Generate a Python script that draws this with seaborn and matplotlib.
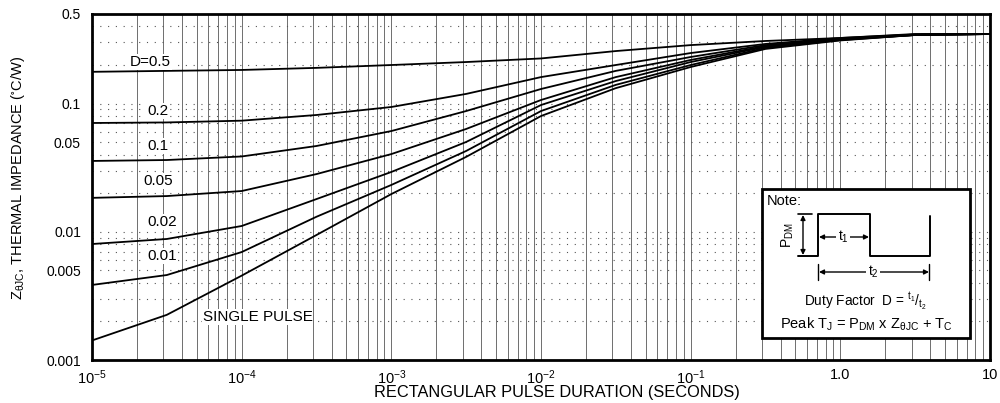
import numpy as np
import pandas as pd
import matplotlib
matplotlib.use("Agg")
import matplotlib.pyplot as plt
import seaborn as sns
from matplotlib.ticker import LogLocator, FixedLocator, FixedFormatter, NullFormatter
from matplotlib.patches import Rectangle, FancyArrowPatch
from matplotlib.lines import Line2D

# ---------------- data ----------------
pulse_time = [1e-5, 3.16e-5, 1e-4, 3.16e-4, 1e-3, 3.16e-3, 1e-2, 3.16e-2,
              0.1, 0.316, 1.0, 3.16, 10.0]
z_d05 = [0.177, 0.180, 0.183, 0.190, 0.200, 0.211, 0.225, 0.257, 0.286, 0.308, 0.325, 0.349, 0.349]
z_d02 = [0.0706, 0.0713, 0.0736, 0.0815, 0.0941, 0.119, 0.161, 0.200, 0.248, 0.292, 0.325, 0.346, 0.349]
z_d01 = [0.0357, 0.0363, 0.0387, 0.0467, 0.0611, 0.0875, 0.130, 0.180, 0.231, 0.286, 0.319, 0.346, 0.349]
z_d005 = [0.0184, 0.0190, 0.0208, 0.0282, 0.0404, 0.0634, 0.1067, 0.161, 0.219, 0.281, 0.319, 0.343, 0.349]
z_d002 = [0.00803, 0.00879, 0.0111, 0.0180, 0.0293, 0.0502, 0.0975, 0.150, 0.211, 0.277, 0.316, 0.343, 0.349]
z_d001 = [0.00385, 0.00460, 0.00695, 0.0131, 0.0232, 0.0427, 0.0875, 0.140, 0.200, 0.272, 0.313, 0.343, 0.349]
z_single = [0.00142, 0.00225, 0.00455, 0.00944, 0.0197, 0.0384, 0.0800, 0.132, 0.193, 0.267, 0.311, 0.343, 0.349]

series_names = ["D=0.5", "0.2", "0.1", "0.05", "0.02", "0.01", "SINGLE PULSE"]
series_values = [z_d05, z_d02, z_d01, z_d005, z_d002, z_d001, z_single]

x_tick_values = [1e-5, 1e-4, 1e-3, 1e-2, 1e-1, 1.0, 10.0]
x_tick_labels = [r"$10^{-5}$", r"$10^{-4}$", r"$10^{-3}$", r"$10^{-2}$", r"$10^{-1}$", "1.0", "10"]
y_tick_values = [0.001, 0.005, 0.01, 0.05, 0.1, 0.5]
y_tick_labels = ["0.001", "0.005", "0.01", "0.05", "0.1", "0.5"]

# ---------------- style ----------------
sns.set_theme(style="white")
plt.rcParams["font.family"] = ["Liberation Sans", "DejaVu Sans"]
plt.rcParams["mathtext.fontset"] = "custom"
plt.rcParams["mathtext.rm"] = "Liberation Sans"
plt.rcParams["mathtext.it"] = "Liberation Sans:italic"
plt.rcParams["mathtext.default"] = "regular"

df = pd.DataFrame({
    "t": np.concatenate([pulse_time for _ in series_names]),
    "z": np.concatenate(series_values),
    "series": np.repeat(series_names, len(pulse_time)),
})

fig = plt.figure(figsize=(10, 4.03), dpi=100)
ax = fig.add_axes([0.092, 1 - 360 / 403, 0.898, 346 / 403])

sns.lineplot(data=df, x="t", y="z", hue="series", palette=["black"] * 7,
             legend=False, estimator=None, sort=False, linewidth=1.3, ax=ax)

ax.set_xscale("log")
ax.set_yscale("log")
ax.set_xlim(1e-5, 10)
ax.set_ylim(0.001, 0.5)

ax.xaxis.set_major_locator(FixedLocator(x_tick_values))
ax.xaxis.set_major_formatter(FixedFormatter(x_tick_labels))
ax.xaxis.set_minor_locator(LogLocator(base=10, subs=np.arange(2, 10)))
ax.xaxis.set_minor_formatter(NullFormatter())
ax.yaxis.set_major_locator(FixedLocator(y_tick_values))
ax.yaxis.set_major_formatter(FixedFormatter(y_tick_labels))
ax.yaxis.set_minor_locator(LogLocator(base=10, subs=np.arange(1, 10)))
ax.yaxis.set_minor_formatter(NullFormatter())

ax.tick_params(axis="both", which="both", length=0)
ax.tick_params(axis="y", labelsize=10, pad=8, colors="black")
ax.tick_params(axis="x", labelsize=10.5, pad=6, colors="black")

ax.grid(True, which="both", axis="x", color="#3a3a3a", linewidth=0.6, alpha=0.85)
ax.grid(True, which="both", axis="y", color="#555555", linewidth=0.8,
        linestyle=(0, (1, 6)))
ax.set_axisbelow(True)

for s in ax.spines.values():
    s.set_visible(True)
    s.set_color("black")
    s.set_linewidth(2)

ax.set_xlabel("RECTANGULAR PULSE DURATION (SECONDS)", fontsize=11.8, color="black")
ax.xaxis.set_label_coords(0.518, -0.072)
ax.set_ylabel(r"Z$_{\theta JC}$, THERMAL IMPEDANCE ($^{\circ}$C/W)", fontsize=10.5, color="black")
ax.yaxis.set_label_coords(-0.072, 0.525)

# curve labels
label_pos = [(1.79e-5, 0.211), (2.33e-5, 0.0875), (2.33e-5, 0.0467), (2.2e-5, 0.0249),
             (2.33e-5, 0.0119), (2.33e-5, 0.00648), (5.5e-5, 0.00217)]
for name, (lx, ly) in zip(series_names, label_pos):
    ax.text(lx, ly, name, fontsize=11, ha="left", va="center", color="black",
            bbox=dict(facecolor="white", edgecolor="none", pad=0.5))

# ---------------- note box (figure pixel coordinates) ----------------
def F(x, y):
    return (x / 1000, 1 - y / 403)

fig.add_artist(Rectangle(F(762, 338), 208 / 1000, 149 / 403, transform=fig.transFigure,
                         facecolor="white", edgecolor="black", linewidth=2, zorder=5))

wx = [798, 818, 818, 870, 870, 930, 930]
wy = [256, 256, 214, 214, 256, 256, 216]
fig.add_artist(Line2D([v / 1000 for v in wx], [1 - v / 403 for v in wy],
                      transform=fig.transFigure, color="black", linewidth=1.4, zorder=6))
fig.add_artist(Line2D([798 / 1000, 812 / 1000], [1 - 214 / 403] * 2,
                      transform=fig.transFigure, color="black", linewidth=1.2, zorder=6))

arrow = dict(arrowstyle="<|-|>", color="black", lw=1.0, mutation_scale=7,
             shrinkA=0, shrinkB=0)
fig.add_artist(FancyArrowPatch(F(803, 215), F(803, 255),
               transform=fig.transFigure, zorder=6, **arrow))
fig.add_artist(FancyArrowPatch(F(819, 237), F(869, 237),
               transform=fig.transFigure, zorder=6, **arrow))
fig.add_artist(FancyArrowPatch(F(819, 272), F(929, 272),
               transform=fig.transFigure, zorder=6, **arrow))
for bx in (818, 929):
    fig.add_artist(Line2D([bx / 1000] * 2, [1 - 264 / 403, 1 - 280 / 403],
                          transform=fig.transFigure, color="black", linewidth=1.0, zorder=6))

tkw = dict(transform=fig.transFigure, color="black", zorder=7)
fig.text(*F(767, 201), "Note:", fontsize=10.5, ha="left", va="center", **tkw)
fig.text(*F(788, 235), r"P$_{DM}$", fontsize=10, rotation=90, ha="center", va="center", **tkw)
fig.text(*F(843, 237), r"t$_1$", fontsize=10, ha="center", va="center",
         bbox=dict(facecolor="white", edgecolor="none", pad=0.8), **tkw)
fig.text(*F(873, 272), r"t$_2$", fontsize=10, ha="center", va="center",
         bbox=dict(facecolor="white", edgecolor="none", pad=0.8), **tkw)
fig.text(*F(865, 301), r"Duty Factor  D = $^{t_1}/_{t_2}$", fontsize=9.8,
         ha="center", va="center", **tkw)
fig.text(*F(866, 324), r"Peak T$_J$ = P$_{DM}$ x Z$_{\theta JC}$ + T$_C$", fontsize=10.5,
         ha="center", va="center", **tkw)

fig.savefig("out.png", dpi=100, facecolor="white")
